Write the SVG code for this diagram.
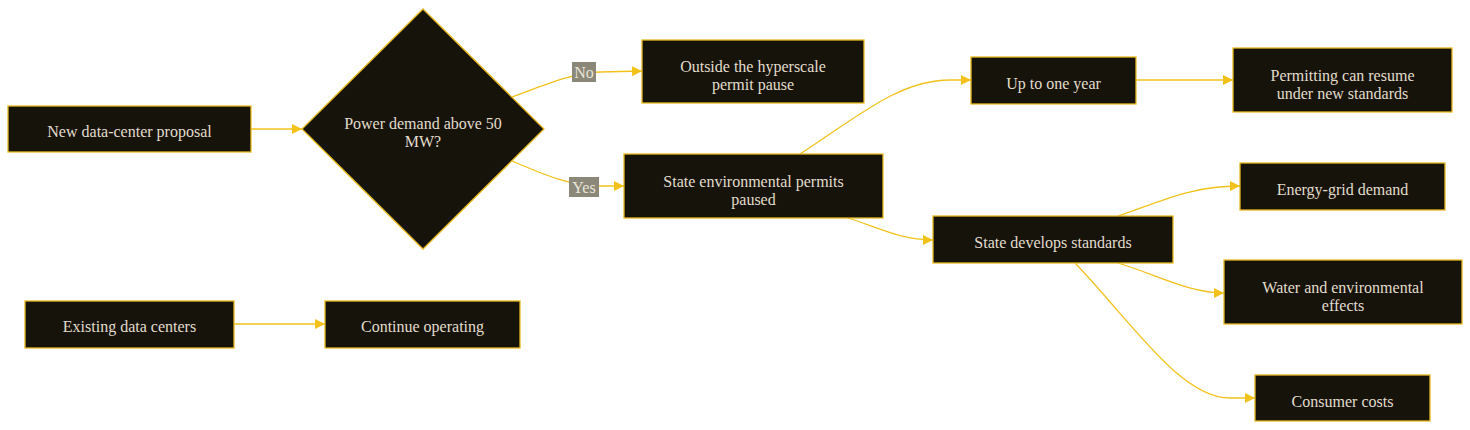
<svg xmlns="http://www.w3.org/2000/svg" width="1470" height="430" viewBox="0 0 1470 430">
<style>
.node rect,.node polygon{fill:#16130b;stroke:#e6b820;stroke-width:1.3}
.node text{font-family:"Liberation Serif","Times New Roman",serif;font-size:16px;fill:#e2ddcc;text-anchor:middle}
.edge{fill:none;stroke:#f2c21b;stroke-width:1.3}
.lbl rect{fill:#8b887a}
.lbl text{font-family:"Liberation Serif","Times New Roman",serif;font-size:16px;fill:#e8e4d6;text-anchor:middle}
</style>
<defs>
<marker id="arr" viewBox="0 0 10 10" refX="10" refY="5" markerWidth="10" markerHeight="10" markerUnits="userSpaceOnUse" orient="auto">
<path d="M0,0 L10,5 L0,10 z" fill="#f2c21b"/>
</marker>
</defs>
<rect width="1470" height="430" fill="#ffffff"/>
<g id="connectors">
<path class="edge" d="M251,129 L302,129" marker-end="url(#arr)"/>
<path class="edge" d="M512,97 C545,85 572,73 600,72 L642,71" marker-end="url(#arr)"/>
<path class="edge" d="M512,161 C545,175 570,186 600,186 L624,186" marker-end="url(#arr)"/>
<path class="edge" d="M800,154 C860,115 900,80 950,80 L971,80" marker-end="url(#arr)"/>
<path class="edge" d="M1136,80 L1233,80" marker-end="url(#arr)"/>
<path class="edge" d="M848,218 C880,228 900,240 933,240" marker-end="url(#arr)"/>
<path class="edge" d="M1118,216 C1160,202 1190,186 1240,186" marker-end="url(#arr)"/>
<path class="edge" d="M1118,263 C1160,276 1190,293 1224,293" marker-end="url(#arr)"/>
<path class="edge" d="M1075,263 C1130,320 1180,398 1230,398 L1255,398" marker-end="url(#arr)"/>
<path class="edge" d="M234,324 L325,324" marker-end="url(#arr)"/>
<g class="lbl"><rect x="572" y="62" width="24" height="20"/><text x="584" y="78">No</text></g>
<g class="lbl"><rect x="569" y="177" width="30" height="20"/><text x="584" y="193">Yes</text></g>
</g>
<g id="n-proposal" class="node"><rect x="8" y="106" width="243" height="46"/><text x="129.5" y="136.5">New data-center proposal</text></g>
<g id="n-decision" class="node"><polygon points="423,9 544,129 423,249 302,129"/><text x="423" y="129">Power demand above 50</text><text x="423" y="147">MW?</text></g>
<g id="n-outside" class="node"><rect x="642" y="40" width="222" height="63"/><text x="753" y="72">Outside the hyperscale</text><text x="753" y="90">permit pause</text></g>
<g id="n-paused" class="node"><rect x="624" y="154" width="259" height="64"/><text x="753.5" y="187">State environmental permits</text><text x="753.5" y="205">paused</text></g>
<g id="n-year" class="node"><rect x="971" y="57" width="165" height="47"/><text x="1053.5" y="89">Up to one year</text></g>
<g id="n-resume" class="node"><rect x="1233" y="48" width="219" height="64"/><text x="1342.5" y="81">Permitting can resume</text><text x="1342.5" y="99">under new standards</text></g>
<g id="n-standards" class="node"><rect x="933" y="216" width="240" height="47"/><text x="1053" y="248">State develops standards</text></g>
<g id="n-energy" class="node"><rect x="1240" y="163" width="205" height="47"/><text x="1342.5" y="195">Energy-grid demand</text></g>
<g id="n-water" class="node"><rect x="1224" y="260" width="238" height="64"/><text x="1343" y="293">Water and environmental</text><text x="1343" y="311">effects</text></g>
<g id="n-consumer" class="node"><rect x="1255" y="375" width="175" height="46"/><text x="1342.5" y="407">Consumer costs</text></g>
<g id="n-existing" class="node"><rect x="25" y="301" width="209" height="47"/><text x="129.5" y="332">Existing data centers</text></g>
<g id="n-continue" class="node"><rect x="325" y="301" width="195" height="47"/><text x="422.5" y="332">Continue operating</text></g>
</svg>
